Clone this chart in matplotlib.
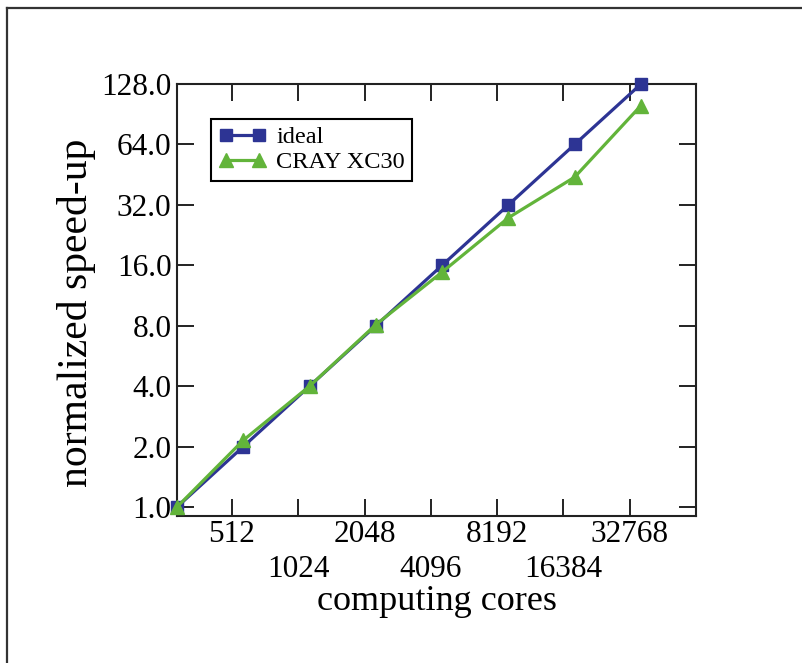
import numpy as np
import matplotlib
matplotlib.use('Agg')
import matplotlib.pyplot as plt
from matplotlib.lines import Line2D
from matplotlib.ticker import FixedLocator, FixedFormatter

# data: cores (24 cores per node) and normalized speed-up
cores = [288, 576, 1152, 2304, 4608, 9216, 18432, 36864]
ideal = [1.0, 2.0, 4.0, 8.0, 16.0, 32.0, 64.0, 128.0]
cray = [1.0, 2.15, 4.0, 8.1, 14.8, 27.6, 44.0, 100.0]

xticks_upper = [512, 2048, 8192, 32768]
xticks_lower = [1024, 4096, 16384]
yticks = [1.0, 2.0, 4.0, 8.0, 16.0, 32.0, 64.0, 128.0]

blue = '#2d3494'
green = '#62b43a'

plt.rcParams['font.family'] = 'Liberation Serif'

W, H = 802, 663
fig = plt.figure(figsize=(W / 100, H / 100), dpi=100)
ax = fig.add_axes([177 / W, 1 - 516 / H, (696 - 177) / W, (516 - 84) / H])

ax.plot(cores, ideal, color=blue, lw=2.3, marker='s', ms=8.7, clip_on=False,
        zorder=3, label='ideal')
ax.plot(cores, cray, color=green, lw=2.3, marker='^', ms=9.7, clip_on=False,
        zorder=4, label='CRAY XC30')

ax.set_xscale('log', base=2)
ax.set_yscale('log', base=2)
ax.set_xlim(288, 65536)
ax.set_ylim(0.902, 128)

# staggered x labels: upper row on major ticks, lower row on "minor" ticks
ax.xaxis.set_major_locator(FixedLocator(xticks_upper))
ax.xaxis.set_major_formatter(FixedFormatter([str(v) for v in xticks_upper]))
ax.xaxis.set_minor_locator(FixedLocator(xticks_lower))
ax.xaxis.set_minor_formatter(FixedFormatter([str(v) for v in xticks_lower]))
ax.yaxis.set_major_locator(FixedLocator(yticks))
ax.yaxis.set_major_formatter(FixedFormatter(['%.1f' % v for v in yticks]))
ax.yaxis.set_minor_locator(FixedLocator([]))

ax.tick_params(which='both', direction='in', length=12.5, width=1.4,
               top=True, right=True, labelsize=22.5, color='#222222')
ax.tick_params(axis='y', pad=4)
ax.tick_params(axis='x', which='major', pad=3)
ax.tick_params(axis='x', which='minor', pad=28)
for s in ax.spines.values():
    s.set_linewidth(1.5)
    s.set_color('#222222')

fig.text(437 / W, 1 - 601 / H, 'computing cores', fontsize=26, ha='center', va='center')
fig.text(77 / W, 1 - 313 / H, 'normalized speed-up', fontsize=30, rotation=90,
         ha='center', va='center')

leg = ax.legend(loc='upper left', bbox_to_anchor=(0.0655, 0.919), borderaxespad=0,
                fancybox=False, edgecolor='black', framealpha=1, fontsize=17.6,
                handlelength=1.95, handletextpad=0.42, borderpad=0.3,
                labelspacing=0.12, numpoints=2)
leg.get_frame().set_linewidth(1.5)

# outer frame of the figure (top and left edges)
fig.add_artist(Line2D([7 / W, 1], [1 - 8 / H, 1 - 8 / H], color='#333333', lw=1.6))
fig.add_artist(Line2D([7 / W, 7 / W], [0, 1 - 8 / H], color='#333333', lw=1.6))

fig.savefig('out.png', dpi=100)
